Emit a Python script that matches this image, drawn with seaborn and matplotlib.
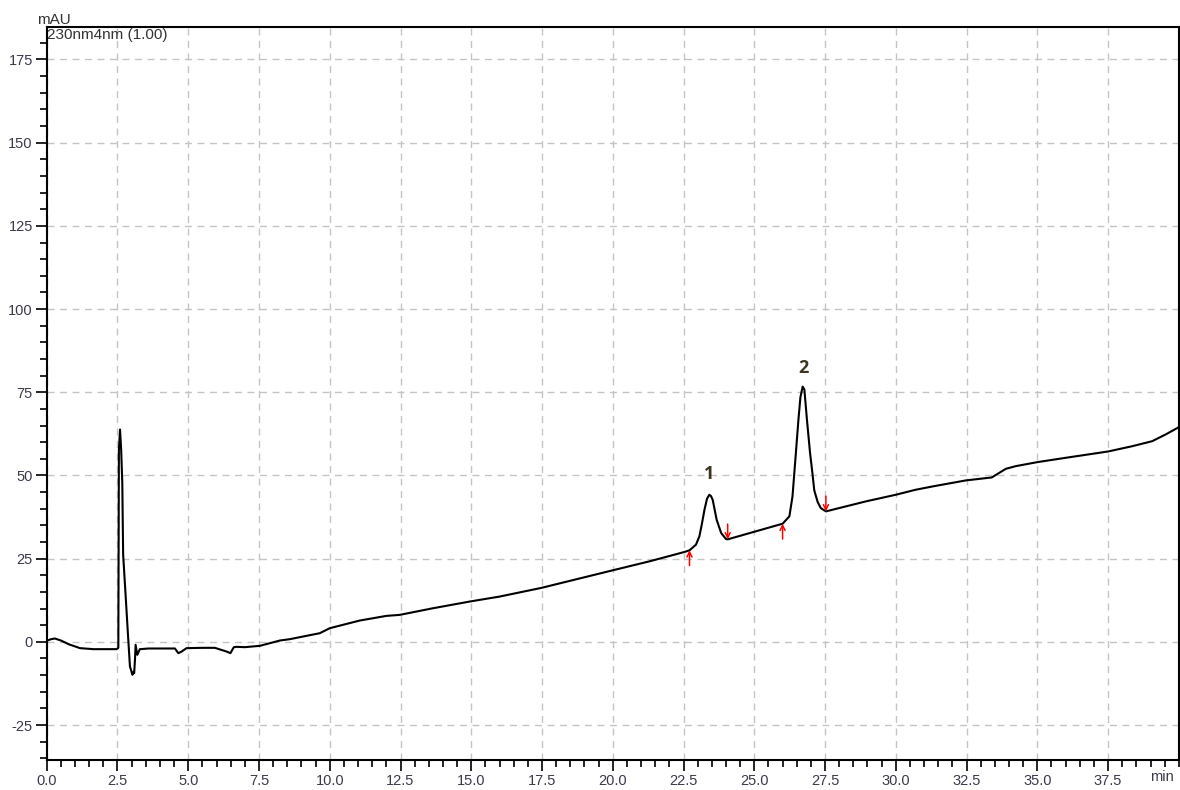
import numpy as np
import pandas as pd
import matplotlib
matplotlib.use("Agg")
import matplotlib.pyplot as plt
from matplotlib.ticker import MultipleLocator, FixedLocator
import seaborn as sns

# ---- data ----
time_min = [0.0, 0.15, 0.29, 0.5, 0.8, 1.18, 1.65, 2.0, 2.3, 2.47, 2.53, 2.55, 2.59,
            2.63, 2.67, 2.70, 2.79, 2.86, 2.94, 3.03, 3.07, 3.09, 3.12, 3.14, 3.2, 3.29,
            3.6, 4.0, 4.53, 4.65, 4.75, 4.94, 5.5, 5.94, 6.35, 6.49, 6.61, 6.7, 7.0,
            7.53, 8.24, 8.59, 8.94, 9.65, 10.0, 11.06, 12.0, 12.47, 13.65, 14.94, 15.29,
            16.0, 17.47, 20.0, 21.3, 22.53, 22.71, 22.94, 23.06, 23.15, 23.24, 23.33,
            23.41, 23.47, 23.53, 23.67, 23.83, 24.0, 24.06, 26.0, 26.24, 26.35, 26.47,
            26.56, 26.63, 26.71, 26.77, 26.86, 26.97, 27.05, 27.12, 27.24, 27.35, 27.53,
            28.94, 30.0, 30.7, 31.3, 32.47, 33.39, 33.89, 34.24, 35.0, 36.0, 37.5,
            38.36, 39.06, 39.53, 40.0]
signal_mau = [0.3, 0.8, 1.0, 0.4, -0.8, -1.9, -2.2, -2.2, -2.2, -2.2, -1.8, 57.7, 63.8,
              57.7, 47.7, 26.2, 13.6, 3.6, -7.4, -9.9, -9.0, -9.4, -5.0, -0.9, -3.9, -2.2,
              -2.0, -2.0, -2.0, -3.4, -3.0, -1.9, -1.8, -1.8, -2.9, -3.4, -1.6, -1.5, -1.6,
              -1.2, 0.4, 0.8, 1.4, 2.6, 4.1, 6.4, 7.8, 8.1, 10.1, 12.1, 12.6,
              13.6, 16.2, 21.5, 24.2, 27.0, 27.5, 29.2, 31.7, 35.5, 39.7, 43.0,
              44.2, 43.8, 42.7, 36.7, 32.7, 30.9, 30.8, 35.5, 37.7, 43.7, 56.8,
              66.8, 73.5, 76.7, 75.8, 66.8, 56.8, 51.0, 45.5, 42.0, 40.2, 39.2,
              42.2, 44.2, 45.7, 46.7, 48.5, 49.4, 52.0, 52.8, 54.0, 55.3, 57.2,
              58.8, 60.3, 62.3, 64.5]

# integration marks (red arrows): time, signal, direction
mark_time = [22.71, 24.06, 26.0, 27.53]
mark_signal = [27.5, 30.8, 35.5, 39.2]
mark_dir = ["up", "down", "up", "down"]

# peak labels
peak_names = ["1", "2"]
peak_time = [23.41, 26.73]
peak_label_y = [50.5, 82.3]

x_ticks = [0.0, 2.5, 5.0, 7.5, 10.0, 12.5, 15.0, 17.5, 20.0, 22.5, 25.0, 27.5,
           30.0, 32.5, 35.0, 37.5]
y_ticks = [-25, 0, 25, 50, 75, 100, 125, 150, 175]

df = pd.DataFrame({"time": time_min, "signal": signal_mau})

# ---- styling ----
sns.set_theme(style="ticks")
plt.rcParams["font.family"] = ["Liberation Sans", "DejaVu Sans"]

fig = plt.figure(figsize=(11.8, 7.9), dpi=100)
ax = fig.add_axes([0.0396, 0.038, 0.9594, 0.928])

sns.lineplot(data=df, x="time", y="signal", ax=ax, color="black", lw=1.5,
             sort=False, estimator=None, zorder=3)

ax.set_xlim(0, 40)
ax.set_ylim(-35.5, 184.8)

ax.xaxis.set_major_locator(FixedLocator(x_ticks))
ax.set_xticklabels([f"{v:.1f}" for v in x_ticks])
ax.xaxis.set_minor_locator(MultipleLocator(0.5))
ax.yaxis.set_major_locator(FixedLocator(y_ticks))
ax.set_yticklabels([str(v) for v in y_ticks])
ax.yaxis.set_minor_locator(MultipleLocator(5))

lab_col = "#3a3a4a"
ax.tick_params(axis="both", which="major", direction="out", length=8, width=1.2,
               color="black", labelsize=10.5, labelcolor=lab_col, pad=2)
ax.tick_params(axis="both", which="minor", direction="out", length=5, width=1.2,
               color="black")

for s in ax.spines.values():
    s.set_visible(True)
    s.set_color("black")
    s.set_linewidth(1.5)

ax.grid(True, which="major", linestyle=(0, (5, 4)), color="#c4c4c4", lw=1.0)
ax.set_axisbelow(True)
ax.set_xlabel("")
ax.set_ylabel("")

# red integration arrows
for t, s, d in zip(mark_time, mark_signal, mark_dir):
    off = -11 if d == "up" else 11
    ax.annotate("", xy=(t, s), xycoords="data", xytext=(0, off),
                textcoords="offset points",
                arrowprops=dict(arrowstyle="->", color="red", lw=1.1,
                                shrinkA=0, shrinkB=0, mutation_scale=9),
                zorder=4)

# peak labels
for n, t, yv in zip(peak_names, peak_time, peak_label_y):
    ax.text(t, yv, n, ha="center", va="center", fontsize=13, fontweight="bold",
            color="#3d3522", family=["Open Sans", "DejaVu Sans"])

# header texts
ax.annotate("mAU", xy=(0, 1), xycoords="axes fraction", xytext=(-7, 0),
            textcoords="offset points", ha="left", va="bottom", fontsize=11,
            color="#333333")
ax.annotate("230nm4nm (1.00)", xy=(0, 1), xycoords="axes fraction", xytext=(0.5, -0.5),
            textcoords="offset points", ha="left", va="top", fontsize=11,
            color="#333333")
ax.annotate("min", xy=(39.41, 0), xycoords=("data", "axes fraction"), xytext=(0, -7.5),
            textcoords="offset points", ha="center", va="top", fontsize=10.5,
            color=lab_col)

fig.savefig("out.png", dpi=100)
